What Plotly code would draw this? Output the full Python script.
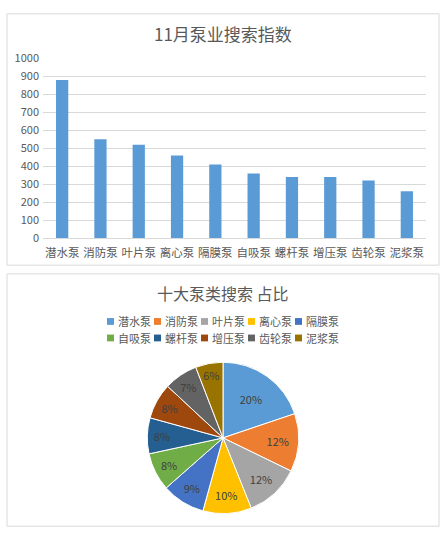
import plotly.graph_objects as go

categories = ["潜水泵", "消防泵", "叶片泵", "离心泵", "隔膜泵", "自吸泵", "螺杆泵", "增压泵", "齿轮泵", "泥浆泵"]
search_index = [880, 550, 520, 460, 410, 360, 340, 340, 320, 260]
y_ticks = [0, 100, 200, 300, 400, 500, 600, 700, 800, 900, 1000]
pie_colors = ["#5B9BD5", "#ED7D31", "#A5A5A5", "#FFC000", "#4472C4",
              "#70AD47", "#255E91", "#9E480E", "#636363", "#997300"]
bar_title = "11月泵业搜索指数"
pie_title = "十大泵类搜索 占比"

W, H = 447, 540
FONT = "Noto Sans CJK SC"
GREY = "#595959"

def px(x):
    return x / W

def py(y):
    return 1 - y / H

fig = go.Figure()

fig.add_trace(go.Bar(
    x=categories, y=search_index, marker=dict(color="#5B9BD5", line=dict(width=0)),
    showlegend=False, xaxis="x", yaxis="y", hoverinfo="x+y",
))

fig.add_trace(go.Pie(
    labels=categories, values=search_index, sort=False, direction="clockwise",
    rotation=0, marker=dict(colors=pie_colors, line=dict(color="white", width=1)),
    texttemplate="%{percent:.0%}", textposition="inside",
    insidetextorientation="horizontal",
    insidetextfont=dict(family=FONT, size=11, color="#404040"),
    domain=dict(x=[px(145), px(301)], y=[py(520), py(364)]),
    showlegend=False,
))

# manual legend: two rows of five entries (square swatch + label)
shapes = [
    dict(type="rect", xref="paper", yref="paper", x0=px(7), x1=px(439),
         y0=py(264), y1=py(5), line=dict(color="#D9D9D9", width=1)),
    dict(type="rect", xref="paper", yref="paper", x0=px(7), x1=px(439),
         y0=py(533), y1=py(273), line=dict(color="#D9D9D9", width=1)),
]
annotations = [
    dict(text=bar_title, x=px(223), y=py(25), xref="paper", yref="paper",
         showarrow=False, xanchor="center", yanchor="middle",
         font=dict(family=FONT, size=17, color=GREY)),
    dict(text=pie_title, x=px(223), y=py(293), xref="paper", yref="paper",
         showarrow=False, xanchor="center", yanchor="middle",
         font=dict(family=FONT, size=16, color=GREY)),
]
row_y = [322, 339]
col_x = [107, 154, 201, 248, 295]
for i, (name, col) in enumerate(zip(categories, pie_colors)):
    r, c = divmod(i, 5)
    x0, yc = col_x[c], row_y[r]
    shapes.append(dict(type="rect", xref="paper", yref="paper",
                       x0=px(x0), x1=px(x0 + 7), y0=py(yc + 3.5), y1=py(yc - 3.5),
                       fillcolor=col, line=dict(width=0)))
    annotations.append(dict(text=name, x=px(x0 + 9), y=py(yc), xref="paper", yref="paper",
                            showarrow=False, xanchor="left", yanchor="middle",
                            font=dict(family=FONT, size=11, color=GREY)))

fig.update_layout(
    width=W, height=H, margin=dict(l=0, r=0, t=0, b=0),
    paper_bgcolor="white", plot_bgcolor="white",
    font=dict(family=FONT, color=GREY),
    bargap=0.68,
    xaxis=dict(domain=[px(43), px(426)], showgrid=False, showline=True,
               linecolor="#D9D9D9", linewidth=1, ticks="",
               tickfont=dict(family=FONT, size=11.5, color=GREY),
               ticklabelstandoff=4,
               anchor="y", fixedrange=True),
    yaxis=dict(domain=[py(236), py(51)], range=[0, 1000], tickvals=y_ticks,
               showgrid=True, gridcolor="#D9D9D9", gridwidth=1,
               zeroline=False, showline=False, ticks="",
               tickfont=dict(family=FONT, size=11, color=GREY),
               ticklabelstandoff=3,
               anchor="x", fixedrange=True),
    showlegend=False,
    shapes=shapes,
    annotations=annotations,
)

fig.write_html(
    "out.html",
    config={"displayModeBar": False},
    post_script="document.body.style.margin='0';document.body.style.overflow='hidden';",
)
